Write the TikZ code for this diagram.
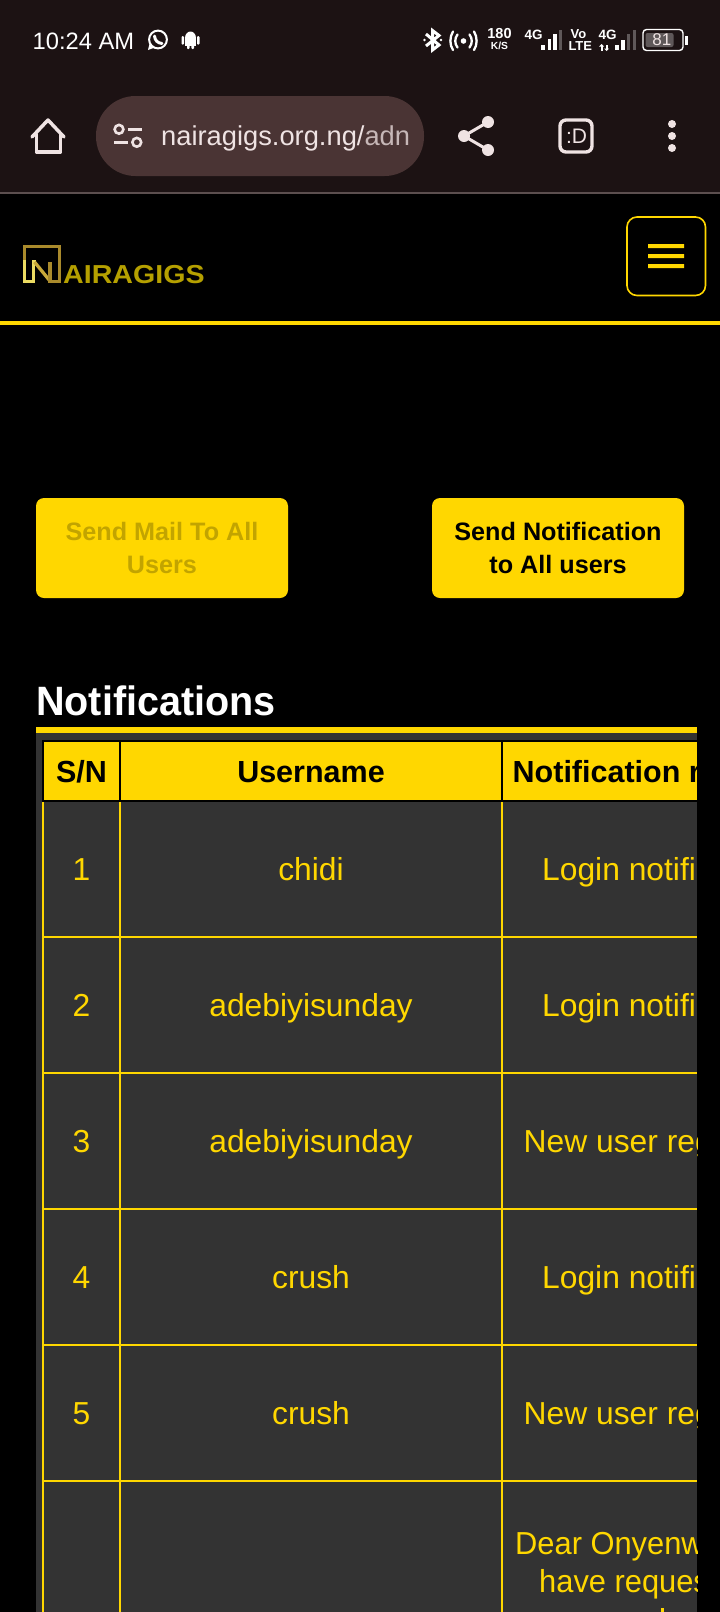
\documentclass[tikz,border=0pt]{standalone}
\usepackage{fontspec}
\setmainfont{Liberation Sans}
\definecolor{chrome}{HTML}{1C1213}
\definecolor{pill}{HTML}{4A3434}
\definecolor{sepc}{HTML}{5C4F4F}
\definecolor{iconc}{HTML}{EFE3E3}
\definecolor{gold}{HTML}{FFD700}
\definecolor{cellbg}{HTML}{333333}
\definecolor{dimtxt}{HTML}{C2A400}
\definecolor{logog}{HTML}{B5A000}
\definecolor{lgbright}{HTML}{EBDB62}
\definecolor{lgmid}{HTML}{C9A93A}
\definecolor{lgdark}{HTML}{A98A2C}
\definecolor{dimbar}{HTML}{5F5859}
\newcommand{\fs}[1]{\fontsize{#1}{#1}\selectfont}
\tikzset{
 btn/.style={fill=gold,rounded corners=8,draw=none},
 btntxt/.style={align=center,font=\fs{25.2}\bfseries,inner sep=0pt},
 hcell/.style={font=\fs{30.5}\bfseries,text=black,inner sep=0pt},
 bcell/.style={font=\fs{31.8},text=gold,inner sep=0pt},
 grid/.style={gold,line width=1.9},
 ic/.style={draw=iconc,line width=3.5,line cap=round,line join=round},
 st/.style={text=white,inner sep=0pt},
 logostroke/.style={line width=3.3,line cap=butt,line join=miter},
}
\begin{document}
\begin{tikzpicture}[x=1pt,y=-1pt]
\useasboundingbox (0,0) rectangle (720,1612);
\fill[black] (0,0) rectangle (720,1612);
\fill[chrome] (0,0) rectangle (720,192);
\fill[sepc] (0,192) rectangle (720,194);
% status bar left
\node[st,anchor=base west,font=\fs{23.7}] (time) at (32.5,49) {10:24 AM};
\draw[white,line width=2] (158,39.5) circle (8.9);
\fill[white] (148,50) -- (149.8,42.5) -- (154,47.8) -- cycle;
\draw[white,line width=3,line cap=round] (154.5,36) .. controls (155,40.5) and (157.5,43) .. (162,43.5);
\fill[white] (190.5,38) ellipse (5.5 and 6.5);
\fill[white] (185,38) rectangle (196,45.5);
\fill[white,rounded corners=1] (187,44) rectangle (189.6,49);
\fill[white,rounded corners=1] (191.4,44) rectangle (194,49);
\fill[white,rounded corners=1] (181.5,36) rectangle (184,44.5);
\fill[white,rounded corners=1] (197,36) rectangle (199.5,44.5);
% bluetooth
\draw[white,line width=3,line join=miter] (426,34) -- (439,45) -- (432.5,50) -- (432.5,30.5) -- (439,35.5) -- (426,46);
\fill[white] (424.5,40) circle (1.4) (441,40) circle (1.4);
% hotspot
\fill[white] (463.5,41) circle (2.8);
\draw[white,line width=2.3,line cap=round] (457.5,34.5) .. controls (454.5,38.5) and (454.5,43.5) .. (457.5,47.5);
\draw[white,line width=2.3,line cap=round] (469.5,34.5) .. controls (472.5,38.5) and (472.5,43.5) .. (469.5,47.5);
\draw[white,line width=2.3,line cap=round] (453,31.5) .. controls (449.5,37) and (449.5,45) .. (453,50);
\draw[white,line width=2.3,line cap=round] (474,31.5) .. controls (477.5,37) and (477.5,45) .. (474,50);
% speed
\node[st,font=\fs{14.5}\bfseries] (spd) at (499.5,33.3) {180};
\node[st,font=\fs{10.3}\bfseries] (kbs) at (499.5,45.5) {K/S};
% sim 1
\node[st,font=\fs{13.5}\bfseries] (g1) at (533.5,34.5) {4G};
\fill[white] (541,45) rectangle (544.5,50);
\fill[white] (547.5,38.5) rectangle (551,50);
\fill[white] (553,34) rectangle (556.5,50);
\fill[dimbar] (559,29.5) rectangle (562,50);
\node[st,font=\fs{13}\bfseries] (vo) at (578.5,34.5) {Vo};
\node[st,font=\fs{13}\bfseries] (lte) at (580.3,46.5) {LTE};
% sim 2
\node[st,font=\fs{13.5}\bfseries] (g2) at (607.5,34.5) {4G};
\fill[white] (600.5,46) rectangle (602.5,50.5);
\fill[white] (599,46.5) -- (601.5,44) -- (604,46.5) -- cycle;
\fill[white] (605.5,44.5) rectangle (607.5,49);
\fill[white] (604,48.5) -- (606.5,51) -- (609,48.5) -- cycle;
\fill[white] (615,45) rectangle (618.5,50);
\fill[white] (621,40) rectangle (624.5,50);
\fill[dimbar] (627,34) rectangle (630,50);
\fill[dimbar] (633,29.5) rectangle (636,50);
% battery
\draw[white,line width=1.4,rounded corners=3.5] (643,29.5) rectangle (683,50.5);
\fill[dimbar,rounded corners=2] (645.5,33) rectangle (673.5,47);
\node[st,font=\fs{17},text=iconc] (batt) at (661.8,40) {81};
\fill[white] (685,35.5) rectangle (688,44.5);
% browser bar
\fill[pill,rounded corners=39.5] (96,96) rectangle (424,176);
\draw[ic] (32,137) -- (48,120) -- (64,137);
\draw[ic] (36.5,134) -- (36.5,152) -- (60.5,152) -- (60.5,134);
% tune icon
\draw[iconc,line width=2.6] (119,129.3) circle (4.4);
\draw[iconc,line width=2.6] (136.8,142.3) circle (4.4);
\fill[iconc] (128,127.8) rectangle (142,130.8);
\fill[iconc] (114,140.8) rectangle (128,143.8);
\begin{scope}
\clip (150,96) rectangle (409,176);
\node[anchor=base west,inner sep=0pt,font=\fs{27.3},text=iconc] (url) at (161,145) {nairagigs.org.ng/\textcolor{iconc!75!pill}{adn}};
\end{scope}
% share
\coordinate (sa) at (488,122);
\coordinate (sb) at (464,136);
\coordinate (sc) at (488,150);
\draw[iconc,line width=3] (sa) -- (sb) -- (sc);
\fill[iconc] (sa) circle (6) (sb) circle (6) (sc) circle (6);
% tab
\draw[iconc,line width=3.4,rounded corners=6] (560,120) rectangle (592,152);
\node[inner sep=0pt,font=\fs{21},text=iconc] (tab) at (576.5,136) {:D};
% dots
\fill[iconc] (672,124) circle (4) (672,136) circle (4) (672,148) circle (4);
% nav
\fill[gold] (0,321) rectangle (720,325);
% logo
\draw[logostroke,draw=lgdark] (24.5,262) -- (24.5,246.6) -- (59.5,246.6) -- (59.5,262);
\draw[logostroke,draw=lgbright] (24.5,260) -- (24.5,281.3) -- (33.8,281.3) -- (33.8,262) -- (36,262);
\draw[logostroke,draw=lgmid] (34.5,262) -- (50,281);
\draw[logostroke,draw=lgdark] (50,262) -- (50,281.3) -- (59.5,281.3) -- (59.5,260);
\node[anchor=base west,inner sep=0pt,font=\fs{26}\bfseries,text=logog,xscale=1.1] (brand) at (63,283) {AIRAGIGS};
% menu
\draw[gold,line width=1.6,rounded corners=10] (627,217) rectangle (705.5,295.5);
\fill[gold] (648,244) rectangle (684,248) (648,254) rectangle (684,258) (648,264) rectangle (684,268);
% buttons
\node[btn,minimum width=252,minimum height=100,inner sep=0pt] (b1) at (162,548) {};
\node[btn,minimum width=252,minimum height=100,inner sep=0pt] (b2) at (558,548) {};
\node[btntxt,text=dimtxt] at (162,548) {Send Mail To All\\[7pt]Users};
\node[btntxt,text=black] at (558,548) {Send Notification\\[7pt]to All users};
% title
\node[anchor=base west,inner sep=0pt,text=white,font=\fs{41}\bfseries,xscale=0.965] (title) at (36,715) {Notifications};
% table
\fill[cellbg] (36,733) rectangle (697,1612);
\fill[gold] (36,727) rectangle (697,733);
\fill[black] (42,740) rectangle (697,802);
\begin{scope}
\clip (36,733) rectangle (697,1612);
\fill[gold] (44,742) rectangle (119,800);
\fill[gold] (121,742) rectangle (501,800);
\fill[gold] (503,742) rectangle (697,800);
\node[hcell,anchor=base] (h1) at (81.5,782) {S/N};
\node[hcell,anchor=base] (h2) at (311,782) {Username};
\node[hcell,anchor=base west] (h3) at (512.5,782) {Notification r};
% grid
\foreach \x in {43,120,502} \draw[grid] (\x,802) -- (\x,1612);
\foreach \y in {937,1073,1209,1345,1481} \draw[grid] (42,\y) -- (697,\y);
% rows
\node[bcell,anchor=base] at (81.5,880) {1};
\node[bcell,anchor=base] at (311,880) {chidi};
\node[bcell,anchor=base west] at (542,880) {Login notifi};
\node[bcell,anchor=base] at (81.5,1016) {2};
\node[bcell,anchor=base] at (311,1016) {adebiyisunday};
\node[bcell,anchor=base west] at (542,1016) {Login notifi};
\node[bcell,anchor=base] at (81.5,1152) {3};
\node[bcell,anchor=base] at (311,1152) {adebiyisunday};
\node[bcell,anchor=base west] at (523.5,1152) {New user reg};
\node[bcell,anchor=base] at (81.5,1288) {4};
\node[bcell,anchor=base] at (311,1288) {crush};
\node[bcell,anchor=base west] at (542,1288) {Login notifi};
\node[bcell,anchor=base] at (81.5,1424) {5};
\node[bcell,anchor=base] at (311,1424) {crush};
\node[bcell,anchor=base west] at (523.5,1424) {New user reg};
\node[bcell,anchor=base west,xscale=0.97] at (515,1554) {Dear Onyenw};
\node[bcell,anchor=base west,xscale=0.97] at (539,1592) {have reques};
\fill[gold] (661,1608) rectangle (663.5,1612);
\end{scope}
\end{tikzpicture}
\end{document}
